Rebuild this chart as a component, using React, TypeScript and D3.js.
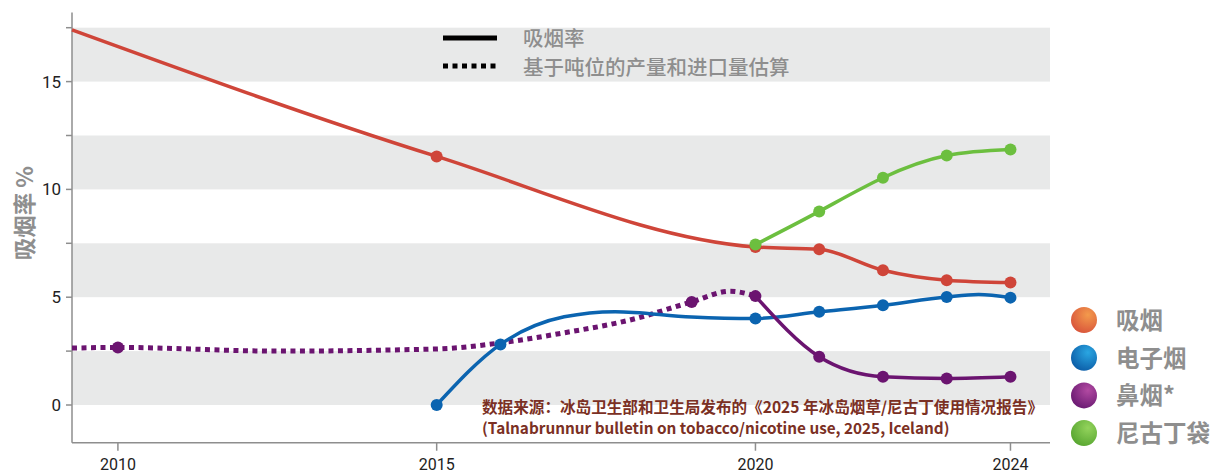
import * as d3 from 'd3'
import React from 'react'

// years / values
const smokingYears = [2009.28, 2015, 2020, 2021, 2022, 2023, 2024]
const smokingValues = [17.4, 11.53, 7.33, 7.22, 6.25, 5.79, 5.68]
const smokingMarks = [2015, 2020, 2021, 2022, 2023, 2024]

const ecigYears = [2015, 2016, 2017, 2017.8, 2019, 2020, 2021, 2022, 2023, 2023.5, 2024]
const ecigValues = [0, 2.81, 4.09, 4.33, 4.08, 4.01, 4.32, 4.63, 5.01, 5.12, 4.98]
const ecigMarks = [2015, 2016, 2020, 2021, 2022, 2023, 2024]

const snuffEstYears = [2009.28, 2010, 2012.5, 2015, 2016, 2017, 2018, 2019, 2019.6, 2020]
const snuffEstValues = [2.64, 2.67, 2.5, 2.6, 2.88, 3.35, 3.92, 4.78, 5.28, 5.05]
const snuffEstMarks = [2010, 2019]

const snuffYears = [2020, 2021, 2022, 2023, 2024]
const snuffValues = [5.05, 2.24, 1.31, 1.23, 1.31]

const pouchYears = [2020, 2021, 2022, 2023, 2024]
const pouchValues = [7.44, 8.98, 10.54, 11.57, 11.85]

const xTicks = [2010, 2015, 2020, 2024]
const yTicks = [0, 5, 10, 15]
const yMinorTicks = [2.5, 7.5, 12.5, 17.5]
const bands = [[0, 2.5], [5, 7.5], [10, 12.5], [15, 17.5]]

const legendNames = ['吸烟', '电子烟', '鼻烟*', '尼古丁袋']
const legendColors = [
  ['#f39a4c', '#d9553b'],
  ['#2aa6e2', '#0c5ea8'],
  ['#b24aa2', '#6a1a72'],
  ['#93d35c', '#58a631'],
]

const RED = '#cf4539'
const BLUE = '#0b64b0'
const PURPLE = '#6b1470'
const GREEN = '#6cbf3f'
const GRAY = '#8e8e8e'
const CJK = '"Noto Sans CJK SC", "Noto Sans", sans-serif'

export default function App() {
  const width = 1218
  const height = 474

  const x = d3.scaleLinear().domain([2009.28, 2024.62]).range([72, 1050])
  const y = d3.scaleLinear().domain([0, 15]).range([405, 81.6])
  const yBottom = y(-1.75)
  const yTop = y(18.2)

  const natural = d3.line<[number, number]>().x(d => x(d[0])).y(d => y(d[1])).curve(d3.curveNatural)
  const mono = d3.line<[number, number]>().x(d => x(d[0])).y(d => y(d[1])).curve(d3.curveMonotoneX)

  const zip = (a: number[], b: number[]) => a.map((v, i) => [v, b[i]] as [number, number])
  const smoking = zip(smokingYears, smokingValues)
  const ecig = zip(ecigYears, ecigValues)
  const snuffEst = zip(snuffEstYears, snuffEstValues)
  const snuff = zip(snuffYears, snuffValues)
  const pouch = zip(pouchYears, pouchValues)

  const dots = (pts: [number, number][], color: string) =>
    pts.map((d, i) => <circle key={i} cx={x(d[0])} cy={y(d[1])} r={6} fill={color} />)

  return (
    <svg width={width} height={height} style={{ position: 'absolute', left: 0, top: 0 }}>
      <defs>
        {legendColors.map((c, i) => (
          <radialGradient key={i} id={`lg${i}`} cx="0.65" cy="0.3" r="0.75">
            <stop offset="0" stopColor={c[0]} />
            <stop offset="1" stopColor={c[1]} />
          </radialGradient>
        ))}
      </defs>

      {bands.map((b, i) => (
        <rect key={i} x={72} y={y(b[1])} width={1050 - 72} height={y(b[0]) - y(b[1])} fill="#e8e9e9" />
      ))}

      {/* axes */}
      <line x1={72} x2={72} y1={yTop} y2={yBottom} stroke={GRAY} strokeWidth={1.5} />
      <line x1={72} x2={1050} y1={yBottom} y2={yBottom} stroke={GRAY} strokeWidth={1.5} />
      {yTicks.concat(yMinorTicks).map(t => (
        <line key={t} x1={66} x2={72} y1={y(t)} y2={y(t)} stroke={GRAY} strokeWidth={1.5} />
      ))}
      {yTicks.map(t => (
        <text key={t} x={61} y={y(t) + 6} textAnchor="end" fontSize={17} fontFamily="Roboto, sans-serif" fill="#222">{t}</text>
      ))}
      {xTicks.map(t => (
        <g key={t}>
          <line x1={x(t)} x2={x(t)} y1={yBottom} y2={yBottom + 8} stroke={GRAY} strokeWidth={1.5} />
          <text x={x(t)} y={470} textAnchor="middle" fontSize={16} fontFamily="Roboto, sans-serif" fill="#222">{t}</text>
        </g>
      ))}
      <text transform={`translate(33,${y(8.9)}) rotate(-90)`} textAnchor="middle" fontSize={22.5} fontWeight="bold" fontFamily={CJK} fill={GRAY}>吸烟率 %</text>

      {/* series */}
      <path d={mono(snuffEst) ?? ''} fill="none" stroke={PURPLE} strokeWidth={5} strokeDasharray="5 4.5" />
      <path d={mono(ecig) ?? ''} fill="none" stroke={BLUE} strokeWidth={3.5} />
      <path d={mono(snuff) ?? ''} fill="none" stroke={PURPLE} strokeWidth={3.5} />
      <path d={mono(smoking) ?? ''} fill="none" stroke={RED} strokeWidth={3.5} />
      <path d={natural(pouch) ?? ''} fill="none" stroke={GREEN} strokeWidth={3.5} />

      {dots(snuffEst.filter(d => snuffEstMarks.includes(d[0])), PURPLE)}
      {dots(snuff, PURPLE)}
      {dots(ecig.filter(d => ecigMarks.includes(d[0])), BLUE)}
      {dots(smoking.filter(d => smokingMarks.includes(d[0])), RED)}
      {dots(pouch, GREEN)}

      {/* line-style legend */}
      <line x1={443} x2={497} y1={38} y2={38} stroke="#000" strokeWidth={5} />
      <line x1={443} x2={497} y1={66} y2={66} stroke="#000" strokeWidth={5} strokeDasharray="5 4.5" />
      <text x={523} y={46} fontSize={20.5} fontFamily={CJK} fill={GRAY} fontWeight={500}>吸烟率</text>
      <text x={523} y={75} fontSize={20.5} fontFamily={CJK} fill={GRAY} fontWeight={500}>基于吨位的产量和进口量估算</text>

      {/* colour legend */}
      {legendNames.map((n, i) => (
        <g key={n} transform={`translate(1084,${320 + i * 37.7})`}>
          <circle r={13} fill={`url(#lg${i})`} />
          <text x={32} y={9} fontSize={23.5} fontWeight="bold" fontFamily={CJK} fill={GRAY}>{n}</text>
        </g>
      ))}

      {/* source */}
      <text x={482} y={413} fontSize={15.6} fontWeight="bold" fontFamily={CJK} fill="#7b3024">数据来源：冰岛卫生部和卫生局发布的《2025 年冰岛烟草/尼古丁使用情况报告》</text>
      <text x={482} y={434} fontSize={15.3} fontWeight="bold" fontFamily={CJK} fill="#7b3024">(Talnabrunnur bulletin on tobacco/nicotine use, 2025, Iceland)</text>
    </svg>
  )
}
